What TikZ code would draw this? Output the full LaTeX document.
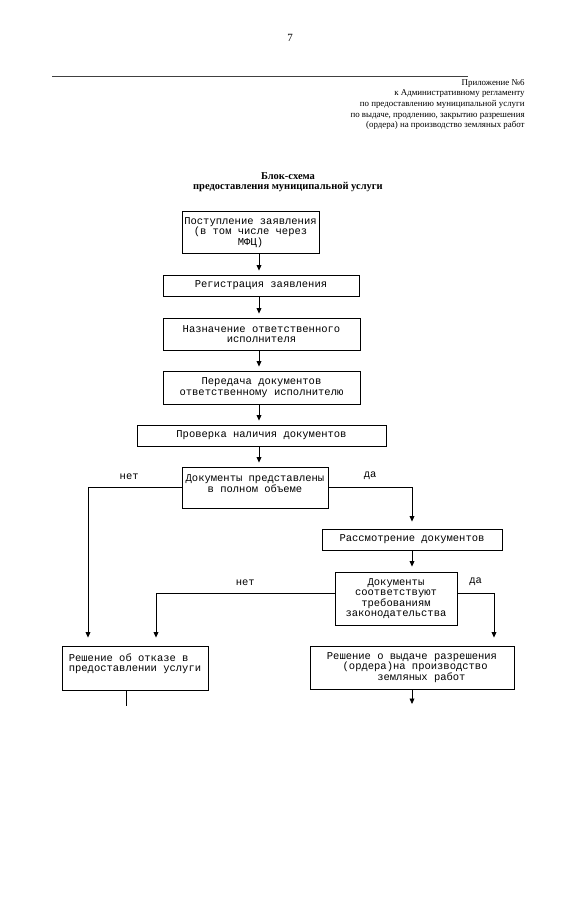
\documentclass[tikz,border=0pt]{standalone}
\usepackage{fontspec}
\setmainfont{Liberation Serif}
\setmonofont{Liberation Mono}
\usetikzlibrary{arrows.meta}

\begin{document}
\begin{tikzpicture}[x=1pt,y=-1pt,line width=0.8pt,
    >={Triangle[length=5.5pt,width=4.8pt]},
    box/.style={draw,line width=0.9pt,inner sep=2pt,align=center,
        font=\fontsize{10.5}{10.5}\selectfont\ttfamily},
    yesno/.style={font=\fontsize{10.5}{10.5}\selectfont\ttfamily,above=4pt}]
    \useasboundingbox (0,0) rectangle (562,905);
    % header of the page
    \node (page) at (290,38) {\fontsize{11}{12}\selectfont 7};
    \coordinate (rule0) at (52,76);
    \coordinate (rule1) at (468,76);
    \draw [line width=1pt,black!75] (rule0) -- (rule1);
    \node [anchor=north east,align=right,inner sep=0pt,
        font=\fontsize{8.9}{10.6}\selectfont] (annex) at (525,79)
        {Приложение №6\\к Административному регламенту\\по предоставлению муниципальной услуги\\по выдаче, продлению, закрытию разрешения\\(ордера) на производство земляных работ};
    \node [align=center,font=\fontsize{10.5}{10.5}\selectfont\bfseries] (title) at (288,182)
        {Блок-схема\\предоставления муниципальной услуги};
    % boxes
    \node [box,minimum width=137pt,minimum height=42pt] (intake) at (250.5,232.5)
        {Поступление заявления\\(в том числе через\\МФЦ)};
    \node [box,minimum width=196pt,minimum height=21pt] (reg) at (261,285.5)
        {Регистрация заявления};
    \node [box,minimum width=197pt,minimum height=32pt] (assign) at (261.5,334)
        {Назначение ответственного\\исполнителя};
    \node [box,minimum width=197pt,minimum height=33pt] (handover) at (261.5,387.5)
        {Передача документов\\ответственному исполнителю};
    \node [box,minimum width=249pt,minimum height=21pt] (check) at (261.5,435.5)
        {Проверка наличия документов};
    \node [box,minimum width=146pt,minimum height=41pt,text depth=8pt] (full) at (255,487.5)
        {Документы представлены\\в полном объеме};
    \node [box,minimum width=180pt,minimum height=21pt] (review) at (412,539.5)
        {Рассмотрение документов};
    \node [box,minimum width=122pt,minimum height=53pt] (legal) at (396,598.5)
        {Документы\\соответствуют\\требованиям\\законодательства};
    \node [box,minimum width=146pt,minimum height=44pt,align=left,text depth=11pt] (refuse) at (135,668)
        {Решение об отказе в\\предоставлении услуги};
    \node [box,minimum width=204pt,minimum height=43pt,align=left] (permit) at (412,667.5)
        {Решение о выдаче разрешения\\\hspace*{1.5em}(ордера)на производство\\\hspace*{4.8em}земляных работ};
    % columns of the connectors
    \coordinate (mcol) at (259,0);
    \coordinate (lcol) at (88,0);
    \coordinate (rcol) at (412,0);
    \coordinate (ncol) at (156,0);
    \coordinate (dcol) at (494,0);
    \coordinate (refuseend) at (126,706);
    \coordinate (permitend) at (412,704);
    \path[->,shorten >=4pt]
        (intake.south -| mcol) edge (reg.north -| mcol)
        (reg.south -| mcol) edge (assign.north -| mcol)
        (assign.south -| mcol) edge (handover.north -| mcol)
        (handover.south -| mcol) edge (check.north -| mcol)
        (check.south -| mcol) edge (full.north -| mcol)
        (review.south -| rcol) edge [shorten >=5pt] (legal.north -| rcol)
        (permit.south -| permitend) edge [shorten >=0pt] (permitend);
    \draw [->,shorten >=8pt] (full.west) -| node [yesno,pos=0.28] {нет} (lcol |- refuse.north);
    \draw [->,shorten >=7pt] (full.east) -| node [yesno,pos=0.25] {да} (rcol |- review.north);
    \draw [->,shorten >=8pt] ([yshift=5.5pt]legal.west) -| node [yesno,pos=0.25] {нет} (ncol |- refuse.north);
    \draw [->,shorten >=8pt] ([yshift=5.5pt]legal.east) -| node [yesno,pos=0.25] {да} (dcol |- permit.north);
    \draw (refuse.south -| refuseend) -- (refuseend);
\end{tikzpicture}
\end{document}
